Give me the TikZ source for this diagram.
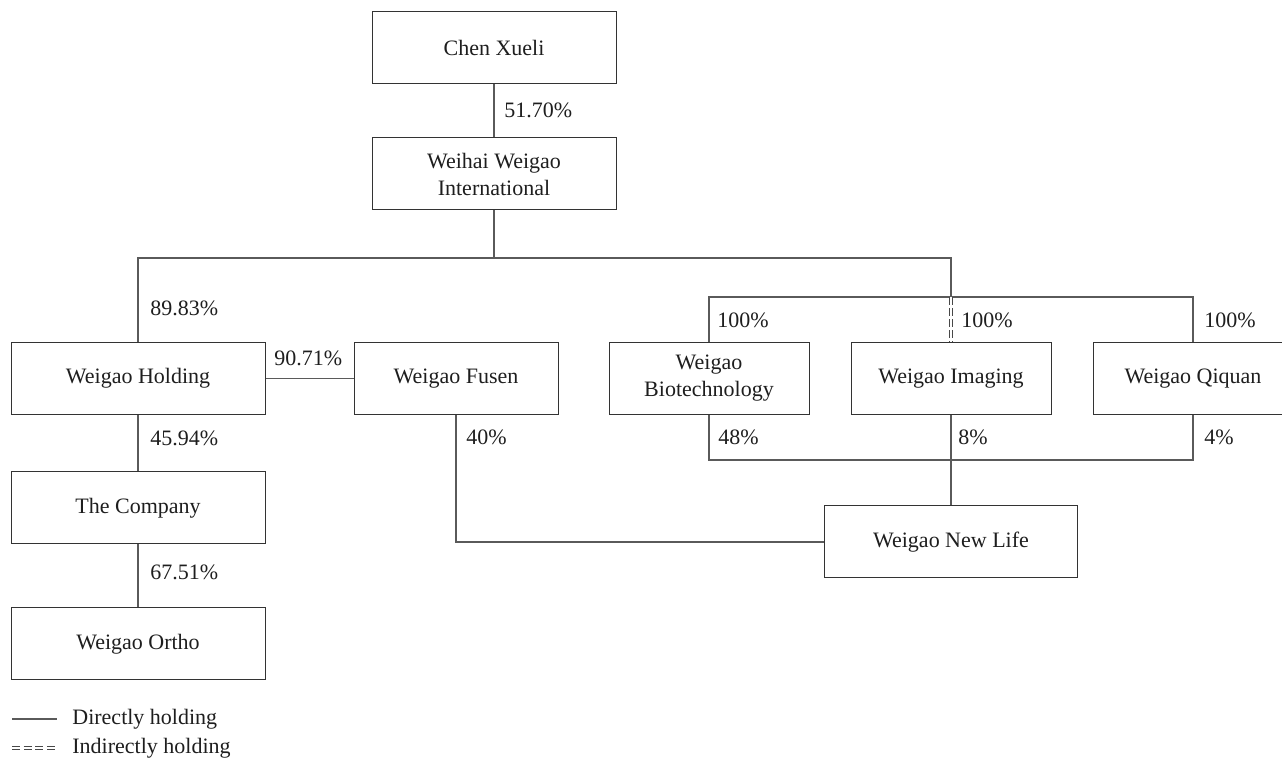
\documentclass[tikz,border=0pt]{standalone}
\usepackage{fontspec}
\setmainfont{Liberation Serif}
\usepackage{tikz}
\usetikzlibrary{positioning}
\definecolor{Linea}{HTML}{5A5A5A}
\definecolor{Borde}{HTML}{333333}
\definecolor{Texto}{HTML}{1E1E1E}

\begin{document}
\begin{tikzpicture}[
  x=0.5pt,y=-0.5pt,
  every node/.style={font=\fontsize{11}{13.5}\selectfont,text=Texto},
  entity/.style={draw=Borde,line width=0.5pt,minimum height=36pt,align=center,inner sep=2pt},
  share/.style={anchor=west,inner sep=0pt},
  own/.style={draw=Linea,line width=0.55pt},
  indirect/.style={draw=Linea!80!black,line width=0.5pt,double,double distance=1.2pt,dash pattern=on 4pt off 1.5pt}
]
  \useasboundingbox (0,0) rectangle (1282,764);

  % Cadena de control superior.
  \node[entity,minimum width=122pt] (chen) at (494,47.5) {Chen Xueli};
  \node[entity,minimum width=122pt] (weihai) at (494,174) {Weihai Weigao\\International};
  \coordinate (split) at (494,258);
  \coordinate (rbar) at (951,297);
  \coordinate (lbar) at (951,460);

  % Filiales.
  \node[entity,minimum width=127pt] (holding) at (138,378.5) {Weigao Holding};
  \node[entity,minimum width=102pt] (fusen) at (456,378.5) {Weigao Fusen};
  \node[entity,minimum width=100pt] (biotech) at (709,378.5) {Weigao\\Biotechnology};
  \node[entity,minimum width=100pt] (imaging) at (951,378.5) {Weigao Imaging};
  \node[entity,minimum width=100pt] (qiquan) at (1193,378.5) {Weigao Qiquan};
  \node[entity,minimum width=127pt] (company) at (138,508) {The Company};
  \node[entity,minimum width=127pt] (ortho) at (138,644) {Weigao Ortho};
  \node[entity,minimum width=126.5pt] (newlife) at (951,542) {Weigao New Life};

  \draw[own] (chen) -- (weihai);
  \draw[own] (weihai) -- (split);
  \draw[own] (holding) |- (split) -| (rbar);
  \draw[own] (biotech) |- (rbar) -| (qiquan);
  \draw[indirect] (rbar) -- (imaging);
  \draw[own] (holding) -- (fusen);
  \draw[own] (holding) -- (company);
  \draw[own] (company) -- (ortho);
  \draw[own] (biotech) |- (lbar) -| (qiquan);
  \draw[own] (imaging) -- (newlife);
  \draw[own] (fusen) |- (newlife);

  % Participaciones.
  \node[share] (pchen) at (504,110) {51.70\%};
  \node[share] (pholding) at (150,308) {89.83\%};
  \node[share] (pfusen) at (274,358) {90.71\%};
  \node[share] (pbiotech) at (717,320) {100\%};
  \node[share] (pimaging) at (961,320) {100\%};
  \node[share] (pqiquan) at (1204,320) {100\%};
  \node[share] (pcompany) at (150,438) {45.94\%};
  \node[share] (portho) at (150,572) {67.51\%};
  \node[share] (nfusen) at (466,437) {40\%};
  \node[share] (nbiotech) at (718,437) {48\%};
  \node[share] (nimaging) at (958,437) {8\%};
  \node[share] (nqiquan) at (1204,437) {4\%};

  % Leyenda.
  \coordinate (d0) at (12,719);
  \coordinate (d1) at (57,719);
  \coordinate (i0) at (12,748);
  \coordinate (i1) at (57,748);
  \draw[own] (d0) -- (d1);
  \draw[indirect,dash pattern=on 4pt off 1.8pt] (i0) -- (i1);
  \node[share] (ldirect) at (72,719) {Directly holding};
  \node[share] (lindirect) at (72,748) {Indirectly holding};
\end{tikzpicture}
\end{document}
